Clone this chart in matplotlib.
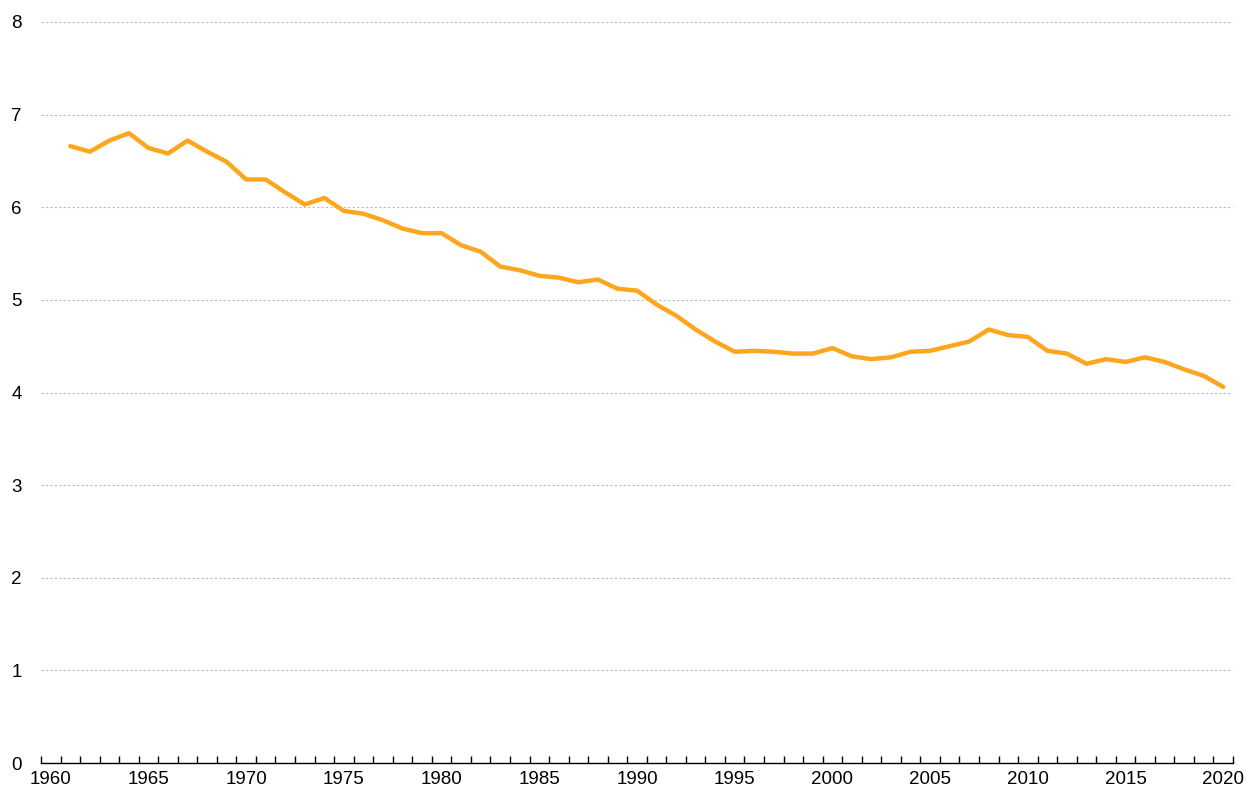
import numpy as np
import matplotlib
matplotlib.use("Agg")
import matplotlib.pyplot as plt

plt.rcParams["font.family"] = ["Liberation Sans", "DejaVu Sans"]

years = list(range(1961, 2021))
values = [
    6.66, 6.60, 6.72, 6.80, 6.64, 6.58, 6.72, 6.60, 6.49, 6.30,
    6.30, 6.16, 6.03, 6.10, 5.96, 5.93, 5.86, 5.77, 5.72, 5.72,
    5.59, 5.52, 5.36, 5.32, 5.26, 5.24, 5.19, 5.22, 5.12, 5.10,
    4.95, 4.83, 4.68, 4.55, 4.44, 4.45, 4.44, 4.42, 4.42, 4.48,
    4.39, 4.36, 4.38, 4.44, 4.45, 4.50, 4.55, 4.68, 4.62, 4.60,
    4.45, 4.42, 4.31, 4.36, 4.33, 4.38, 4.33, 4.25, 4.18, 4.06,
]
x_labels = list(range(1960, 2021, 5))
y_ticks = list(range(0, 9))

fig = plt.figure(figsize=(12.47, 7.96), dpi=100)
ax = fig.add_axes([41 / 1247, 33 / 796, 1192 / 1247, 741 / 796])

ax.plot(years, values, color="#FFA61E", lw=3.2, solid_joinstyle="round",
        solid_capstyle="round", zorder=3)

# category-style axis: ticks between years, labels centred on years
ax.set_xlim(1959.5, 2020.5)
ax.set_ylim(0, 8)
ax.set_xticks(x_labels)
ax.set_xticks(np.arange(1959.5, 2021, 1), minor=True)
ax.tick_params(axis="x", which="major", length=0, labelsize=13.5, pad=6)
ax.tick_params(axis="x", which="minor", direction="in", length=5, width=1,
               color="black")
ax.set_yticks(y_ticks)
ax.tick_params(axis="y", length=0, labelsize=13.5, pad=14)

ax.grid(axis="y", color="#BBBBBB", linestyle=(0, (2, 2)), lw=0.8)
for s in ["top", "right", "left"]:
    ax.spines[s].set_visible(False)
ax.spines["bottom"].set_color("black")
ax.spines["bottom"].set_linewidth(1)
ax.spines["bottom"].set_zorder(4)

fig.savefig("out.png", dpi=100)
